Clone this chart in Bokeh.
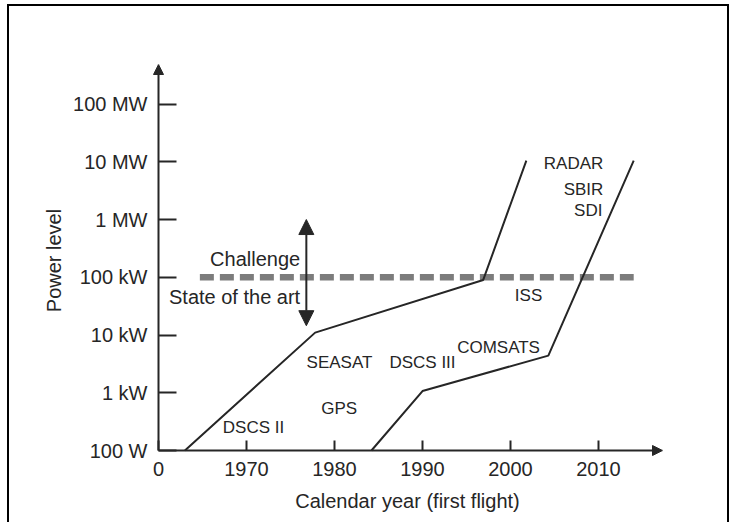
from bokeh.plotting import figure
from bokeh.models import Range1d, FixedTicker, Arrow, NormalHead, LinearAxis, LogAxis
from bokeh.core.properties import value
from bokeh.embed import file_html
from bokeh.resources import INLINE

# ---- data ----
x_ticks = [1960, 1970, 1980, 1990, 2000, 2010]
x_tick_labels = ["0", "1970", "1980", "1990", "2000", "2010"]
y_ticks = [1e2, 1e3, 1e4, 1e5, 1e6, 1e7, 1e8]
y_tick_labels = ["100 W", "1 kW", "10 kW", "100 kW", "1 MW", "10 MW", "100 MW"]

line1_years = [1963.0, 1977.8, 1996.9, 2001.8]
line1_power = [100, 11000, 90000, 1.05e7]
line2_years = [1984.2, 1990.0, 2004.3, 2014.0]
line2_power = [100, 1070, 4400, 1.05e7]

sota_years = [1964.7, 2014.0]
sota_power = [1e5, 1e5]

challenge_year = [1976.8]
challenge_power_low = [1.45e4]
challenge_power_high = [1.0e6]

mission_labels = ["SEASAT", "DSCS III", "COMSATS", "GPS", "DSCS II", "ISS"]
mission_years = [1980.57, 1990.0, 1998.64, 1980.53, 1970.8, 2002.05]
mission_power = [10**3.519, 10**3.519, 10**3.787, 10**2.722, 10**2.402, 10**4.679]

future_labels = ["RADAR", "SBIR", "SDI"]
future_years = [2010.55, 2010.55, 2010.45]
future_power = [10**6.965, 10**6.524, 10**6.151]

note_labels = ["Challenge", "State of the art"]
note_years = [1976.1, 1976.1]
note_power = [10**5.32, 10**4.662]

FONT = "Liberation Sans"
INK = "#262626"

PX_PER_YEAR = 8.8
PX_PER_DECADE = 57.74
PAD = 6
x_origin, y_origin = 1960, 100
x_tip = 1960 + 504 / PX_PER_YEAR
y_tip = 10 ** (2 + 386 / PX_PER_DECADE)

p = figure(width=722, height=518,
           x_range=Range1d(x_origin - PAD / PX_PER_YEAR, x_tip),
           y_range=Range1d(10 ** (2 - PAD / PX_PER_DECADE), y_tip),
           y_axis_type="log", x_axis_location=None, y_axis_location=None,
           output_backend="svg", toolbar_location=None,
           min_border_left=143, min_border_right=69,
           min_border_top=58, min_border_bottom=68)
p.styles = {"margin-left": "7px", "margin-top": "4px",
            "border-top": "2px solid black", "border-left": "2px solid black",
            "border-right": "2px solid black"}
p.outline_line_color = None
p.grid.visible = False


def style_labels(ax):
    ax.axis_line_color = None
    ax.major_tick_line_color = None
    ax.minor_tick_line_color = None
    ax.major_tick_out = 0
    ax.major_tick_in = 0
    ax.major_label_text_font = FONT
    ax.major_label_text_font_size = "20px"
    ax.major_label_text_color = INK
    ax.axis_label_text_font = FONT
    ax.axis_label_text_font_size = "20px"
    ax.axis_label_text_font_style = "normal"
    ax.axis_label_text_color = INK


def style_ticks(ax, tick_len):
    ax.axis_line_color = None
    ax.major_tick_line_color = INK
    ax.major_tick_line_width = 2
    ax.major_tick_out = 0
    ax.major_tick_in = tick_len
    ax.minor_tick_line_color = None
    ax.major_label_text_color = None
    ax.major_label_text_font_size = "1px"
    ax.major_label_standoff = 0


# label axes at the frame edges
x_lab = LinearAxis(ticker=FixedTicker(ticks=x_ticks),
                   major_label_overrides=dict(zip(x_ticks, x_tick_labels)),
                   axis_label="Calendar year (first flight)")
style_labels(x_lab)
x_lab.major_label_standoff = 5
x_lab.axis_label_standoff = 11
p.add_layout(x_lab, "below")

y_lab = LogAxis(ticker=FixedTicker(ticks=y_ticks),
                major_label_overrides=dict(zip([int(t) for t in y_ticks], y_tick_labels)),
                axis_label="Power level")
style_labels(y_lab)
y_lab.major_label_standoff = 5
y_lab.axis_label_standoff = 5
p.add_layout(y_lab, "left")

# tick-mark axes placed at the origin
x_tk = LinearAxis(ticker=FixedTicker(ticks=x_ticks), fixed_location=y_origin)
style_ticks(x_tk, 10)
p.add_layout(x_tk, "below")
y_tk = LogAxis(ticker=FixedTicker(ticks=y_ticks), fixed_location=x_origin)
style_ticks(y_tk, 18)
p.add_layout(y_tk, "left")

# axis lines with arrow heads
p.add_layout(Arrow(end=NormalHead(size=10, fill_color=INK, line_color=INK, line_width=1),
                   x_start=x_origin, y_start=y_origin, x_end=x_origin, y_end=y_tip,
                   line_color=INK, line_width=2))
p.add_layout(Arrow(end=NormalHead(size=10, fill_color=INK, line_color=INK, line_width=1),
                   x_start=x_origin, y_start=y_origin, x_end=x_tip, y_end=y_origin,
                   line_color=INK, line_width=2))

# state of the art dashed line
p.line(sota_years, sota_power, line_color="#7c7c7c", line_width=6.5, line_dash="14 6")

# trend lines
p.line(line1_years, line1_power, line_color=INK, line_width=2)
p.line(line2_years, line2_power, line_color=INK, line_width=2)

# challenge double arrow
p.add_layout(Arrow(start=NormalHead(size=15, fill_color=INK, line_color=INK, line_width=1),
                   end=NormalHead(size=15, fill_color=INK, line_color=INK, line_width=1),
                   x_start=challenge_year[0], y_start=challenge_power_low[0],
                   x_end=challenge_year[0], y_end=challenge_power_high[0],
                   line_color=INK, line_width=2))

# labels
p.text(x=mission_years, y=mission_power, text=mission_labels,
       text_font=value(FONT), text_font_size="17px", text_color=INK,
       text_align="center", text_baseline="middle")
p.text(x=future_years, y=future_power, text=future_labels,
       text_font=value(FONT), text_font_size="17px", text_color=INK,
       text_align="right", text_baseline="middle")
p.text(x=note_years, y=note_power, text=note_labels,
       text_font=value(FONT), text_font_size="20px", text_color=INK,
       text_align="right", text_baseline="middle")

open("out.html", "w").write(file_html(p, INLINE))
